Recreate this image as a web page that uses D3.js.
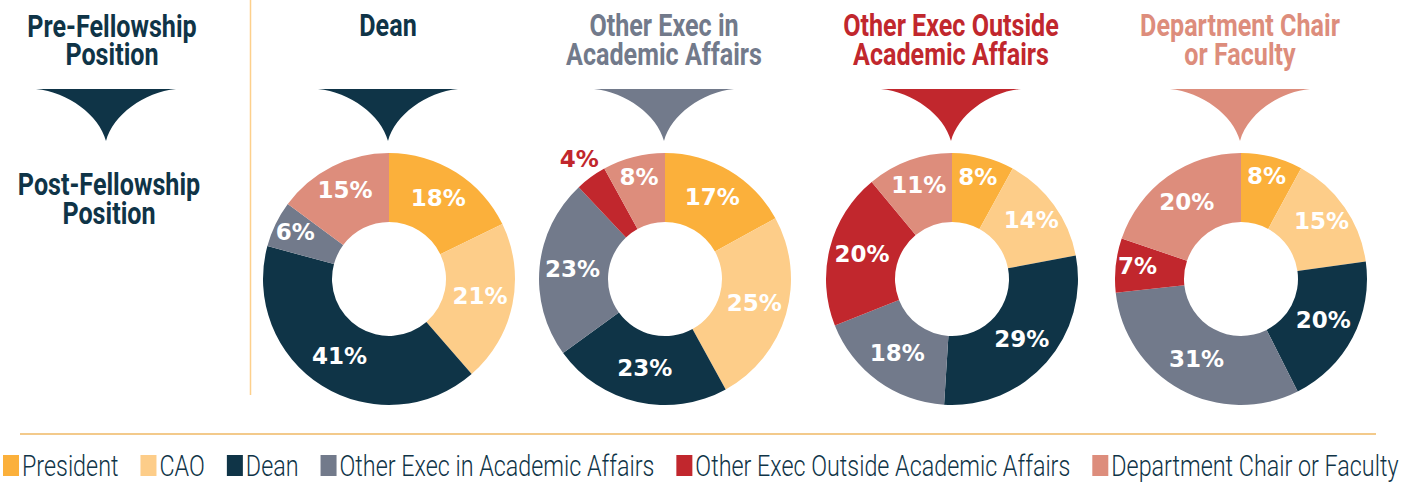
<!DOCTYPE html>
<html>
<head>
<meta charset="utf-8">
<script src="https://cdn.jsdelivr.net/npm/d3@7"></script>
<style>
  body { margin: 0; background: #fff; }
  .head { font-family: Roboto, "Liberation Sans", sans-serif; font-weight: 700; font-size: 32px; }
  .pct { font-family: "DejaVu Sans", sans-serif; font-weight: 700; font-size: 23px; }
  .legend text { font-family: Roboto, "Liberation Sans", sans-serif; font-weight: 300; font-size: 30px; fill: #0f3447; }
</style>
</head>
<body>
<svg id="chart"></svg>
<script>
// categories (post-fellowship position) and colours
let categories = [
  "President",
  "CAO",
  "Dean",
  "Other Exec in Academic Affairs",
  "Other Exec Outside Academic Affairs",
  "Department Chair or Faculty",
];
let colors = ["#fbb03b", "#fdcd89", "#0f3447", "#727a8b", "#c1272d", "#dd8d7c"];

// pre-fellowship groups (one donut each)
let groupTitles = [
  ["Dean"],
  ["Other Exec in", "Academic Affairs"],
  ["Other Exec Outside", "Academic Affairs"],
  ["Department Chair", "or Faculty"],
];
let groupColors = ["#0f3447", "#727a8b", "#c1272d", "#dd8d7c"];

// percent values, same order as categories
let deanValues = [18, 21, 41, 6, 0, 15];
let otherInValues = [17, 25, 23, 23, 4, 8];
let otherOutValues = [8, 14, 29, 18, 20, 11];
let deptValues = [8, 15, 20, 31, 7, 20];
let groupValues = [deanValues, otherInValues, otherOutValues, deptValues];

let width = 1418,
  height = 483;

let svg = d3.select("#chart").attr("width", width).attr("height", height);

let centers = [389, 665, 952, 1241],
  cy = 279,
  outerR = 126,
  innerR = 57;

let pie = d3.pie().sort(null).value((d) => d);
let arc = d3.arc().innerRadius(innerR).outerRadius(outerR);

// measure a string in a given class so condensed text can be squeezed to fit
function measure(cls, str) {
  let g = svg.append("g").attr("class", cls);
  let t = g.append("text").text(str);
  let w = t.node().getComputedTextLength();
  g.remove();
  return w;
}
let headK = 196 / measure("head", "Academic Affairs");
let legK = 315 / measure("legend", "Other Exec in Academic Affairs");

function headText(parent, str, x, y, fill) {
  return parent
    .append("text")
    .attr("class", "head")
    .attr("transform", "translate(" + x + "," + y + ") scale(" + headK + ",1)")
    .attr("text-anchor", "middle")
    .attr("fill", fill)
    .text(str);
}

// concave "funnel" arrow
function chevron(cx, top, w, h) {
  let p = d3.path();
  let hw = w / 2;
  p.moveTo(cx - hw, top);
  p.lineTo(cx + hw, top);
  p.bezierCurveTo(cx + hw - 32, top + 3, cx + 7, top + 26, cx, top + h);
  p.bezierCurveTo(cx - 7, top + 26, cx - hw + 32, top + 3, cx - hw, top);
  p.closePath();
  return p.toString();
}

function labelRadius(v) {
  if (v < 5) return 146;
  if (v < 10) return 104;
  if (v < 16) return 98;
  return 93;
}

// left column
headText(svg, "Pre-Fellowship", 112, 37, "#0f3447");
headText(svg, "Position", 112, 65, "#0f3447");
headText(svg, "Post-Fellowship", 109, 195, "#0f3447");
headText(svg, "Position", 109, 224, "#0f3447");
svg.append("path").attr("d", chevron(106, 89, 140, 52)).attr("fill", "#0f3447");

// divider lines
svg.append("line")
  .attr("x1", 250.5).attr("x2", 250.5).attr("y1", 0).attr("y2", 395)
  .attr("stroke", "#fdd08c").attr("stroke-width", 1.5);
svg.append("line")
  .attr("x1", 20).attr("x2", 1376).attr("y1", 434).attr("y2", 434)
  .attr("stroke", "#efb864").attr("stroke-width", 1.3);

// donuts
groupValues.forEach((vals, gi) => {
  let cx = centers[gi];
  let g = svg.append("g");

  groupTitles[gi].forEach((line, li) => {
    headText(g, line, cx - 1, 36 + li * 28.5, groupColors[gi]);
  });

  g.append("path").attr("d", chevron(cx - 1, 89, 140, 52)).attr("fill", groupColors[gi]);

  let arcs = pie(vals);
  let donut = g.append("g").attr("transform", "translate(" + cx + "," + cy + ")");

  donut
    .selectAll("path")
    .data(arcs)
    .join("path")
    .attr("d", arc)
    .attr("fill", (d, i) => colors[i]);

  donut
    .selectAll("text")
    .data(arcs.filter((d) => d.data > 0))
    .join("text")
    .attr("class", "pct")
    .attr("transform", (d) => {
      let a = (d.startAngle + d.endAngle) / 2;
      let r = labelRadius(d.data);
      return "translate(" + r * Math.sin(a) + "," + (-r * Math.cos(a) - 2) + ")";
    })
    .attr("dy", "0.36em")
    .attr("text-anchor", "middle")
    .attr("fill", (d) => (d.data < 5 ? colors[d.index] : "#fff"))
    .text((d) => d.data + "%");
});

// legend
let legend = svg.append("g").attr("class", "legend");
let lx = 3;
categories.forEach((c, i) => {
  legend.append("rect")
    .attr("x", lx).attr("y", 455).attr("width", 16).attr("height", 21)
    .attr("fill", colors[i]);
  let t = legend.append("text")
    .attr("transform", "translate(" + (lx + 19) + ",476) scale(" + legK + ",1)")
    .text(c);
  lx += 19 + t.node().getComputedTextLength() * legK + 22;
});
</script>
</body>
</html>
